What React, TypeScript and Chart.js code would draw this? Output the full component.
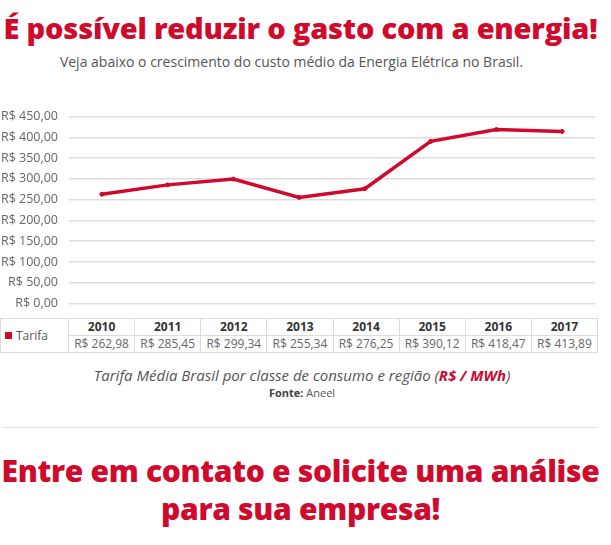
import React, { useEffect, useRef } from "react";
import { Chart, registerables } from "chart.js";

Chart.register(...registerables);

const years = ["2010", "2011", "2012", "2013", "2014", "2015", "2016", "2017"];
const tarifa = [262.98, 285.45, 299.34, 255.34, 276.25, 390.12, 418.47, 413.89];
const yMax = 450;
const yStep = 50;

const RED = "#cf0a2c";
const FONT = "'Open Sans', 'DejaVu Sans', sans-serif";

const fmt = (v: number) =>
  "R$ " + v.toFixed(2).replace(".", ",");

export default function App() {
  const ref = useRef<HTMLCanvasElement | null>(null);

  useEffect(() => {
    if (!ref.current) return;
    const chart = new Chart(ref.current, {
      type: "line",
      data: {
        labels: years,
        datasets: [
          {
            label: "Tarifa",
            data: tarifa,
            borderColor: RED,
            backgroundColor: RED,
            borderWidth: 3.5,
            pointRadius: 2,
            pointBorderWidth: 1,
            pointBackgroundColor: RED,
            pointBorderColor: RED,
            tension: 0,
          },
        ],
      },
      options: {
        animation: false,
        responsive: false,
        maintainAspectRatio: false,
        layout: { padding: { top: 15, bottom: 6, right: 2, left: 0 } },
        plugins: {
          legend: { display: false },
          tooltip: { enabled: false },
        },
        scales: {
          x: {
            type: "category",
            display: false,
            offset: true,
          },
          y: {
            min: 0,
            max: yMax,
            ticks: {
              stepSize: yStep,
              padding: 11,
              color: "#666",
              font: { family: FONT, size: 12.5 },
              callback: (v: any) => fmt(Number(v)),
            },
            grid: { color: "#dddddd", lineWidth: 1.5, drawTicks: false },
            border: { display: false },
            afterFit: (s: any) => {
              s.width = 69;
            },
          },
        },
      },
    });
    return () => chart.destroy();
  }, []);

  const cell: React.CSSProperties = {
    border: "1px solid #dcdcdc",
    padding: 0,
    textAlign: "center",
    height: 16,
    lineHeight: "16px",
    whiteSpace: "nowrap",
  };

  return (
    <div
      style={{
        position: "absolute",
        left: 0,
        top: 0,
        width: 611,
        height: 545,
        background: "#fff",
        fontFamily: FONT,
        overflow: "hidden",
      }}
    >
      <div
        style={{
          position: "absolute",
          top: 8,
          left: 0,
          width: 601,
          textAlign: "center",
          color: RED,
          fontWeight: 800,
          fontSize: 29,
          letterSpacing: -0.2,
          lineHeight: "40px",
        }}
      >
        É possível reduzir o gasto com a energia!
      </div>
      <div
        style={{
          position: "absolute",
          top: 52,
          left: 0,
          width: 583,
          textAlign: "center",
          color: "#555",
          fontSize: 14,
          lineHeight: "20px",
        }}
      >
        Veja abaixo o crescimento do custo médio da Energia Elétrica no Brasil.
      </div>

      <canvas
        ref={ref}
        width={600}
        height={224}
        style={{ position: "absolute", left: 0, top: 98, width: 600, height: 224 }}
      />

      <table
        style={{
          position: "absolute",
          left: 0,
          top: 318,
          width: 598,
          borderCollapse: "collapse",
          tableLayout: "fixed",
          fontSize: 12,
          fontFamily: FONT,
          background: "#fff",
        }}
      >
        <colgroup>
          <col style={{ width: 68 }} />
          {years.map((y) => (
            <col key={y} />
          ))}
        </colgroup>
        <tbody>
          <tr>
            <td
              rowSpan={2}
              style={{ ...cell, textAlign: "left", color: "#555", paddingLeft: 4 }}
            >
              <span
                style={{
                  display: "inline-block",
                  width: 7,
                  height: 7,
                  background: RED,
                  marginRight: 4,
                  verticalAlign: "middle",
                  position: "relative",
                  top: -1,
                }}
              />
              Tarifa
            </td>
            {years.map((y) => (
              <td key={y} style={{ ...cell, fontWeight: 700, color: "#333" }}>
                {y}
              </td>
            ))}
          </tr>
          <tr>
            {tarifa.map((v, i) => (
              <td key={i} style={{ ...cell, color: "#666" }}>
                {fmt(v)}
              </td>
            ))}
          </tr>
        </tbody>
      </table>

      <div
        style={{
          position: "absolute",
          top: 365,
          left: 0,
          width: 604,
          textAlign: "center",
          color: "#555",
          fontSize: 15,
          fontStyle: "italic",
          lineHeight: "20px",
        }}
      >
        Tarifa Média Brasil por classe de consumo e região (
        <span style={{ color: RED, fontWeight: 700 }}>R$ / MWh</span>)
      </div>
      <div
        style={{
          position: "absolute",
          top: 385,
          left: 0,
          width: 604,
          textAlign: "center",
          color: "#555",
          fontSize: 11,
          lineHeight: "16px",
        }}
      >
        <b style={{ color: "#444" }}>Fonte:</b> Aneel
      </div>

      <div
        style={{
          position: "absolute",
          top: 427,
          left: 2,
          width: 596,
          height: 1,
          background: "#e0e0e0",
        }}
      />

      <div
        style={{
          position: "absolute",
          top: 452,
          left: 0,
          width: 601,
          textAlign: "center",
          color: RED,
          fontWeight: 800,
          fontSize: 30,
          letterSpacing: -0.3,
          lineHeight: "38px",
        }}
      >
        Entre em contato e solicite uma análise
        <br />
        para sua empresa!
      </div>
    </div>
  );
}
